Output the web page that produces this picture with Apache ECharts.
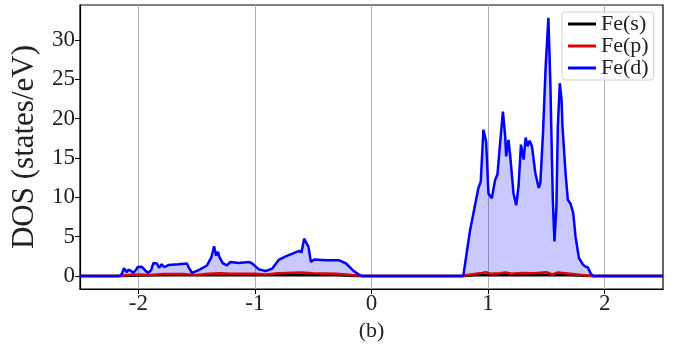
<!DOCTYPE html>
<html>
<head>
<meta charset="utf-8">
<script src="https://cdn.jsdelivr.net/npm/echarts@6/dist/echarts.min.js"></script>
<style>
html, body { margin: 0; padding: 0; background: #fff; }
#chart { width: 679px; height: 348px; }
</style>
</head>
<body>
<div id="chart"></div>
<script>
// data
var seriesNames = ['Fe(s)', 'Fe(p)', 'Fe(d)'];
var xTicks = [-2, -1, 0, 1, 2];
var yTicks = [0, 5, 10, 15, 20, 25, 30];

var dEnergy = [-2.5, -2.16, -2.14, -2.123, -2.10, -2.085, -2.065, -2.043, -2.02, -2.006, -1.971, -1.943, -1.914, -1.89, -1.871, -1.84, -1.822, -1.8, -1.776, -1.741, -1.655, -1.583, -1.569, -1.54, -1.483, -1.411, -1.373, -1.35, -1.333, -1.316, -1.304, -1.276, -1.239, -1.21, -1.138, -1.052, -1.023, -0.966, -0.908, -0.851, -0.793, -0.736, -0.678, -0.621, -0.6, -0.578, -0.563, -0.54, -0.52, -0.491, -0.391, -0.276, -0.218, -0.161, -0.103, -0.08, 0.787, 0.816, 0.845, 0.873, 0.897, 0.917, 0.937, 0.96, 0.983, 1.003, 1.032, 1.046, 1.06, 1.08, 1.103, 1.127, 1.147, 1.155, 1.175, 1.19, 1.218, 1.241, 1.261, 1.282, 1.299, 1.305, 1.322, 1.339, 1.356, 1.376, 1.405, 1.434, 1.448, 1.471, 1.494, 1.517, 1.534, 1.555, 1.569, 1.586, 1.598, 1.615, 1.63, 1.638, 1.649, 1.664, 1.684, 1.707, 1.73, 1.75, 1.779, 1.816, 1.836, 1.856, 1.879, 1.902, 2.5];
var dValue = [0, 0, 0.3, 1.0, 0.5, 0.8, 0.7, 0.4, 0.8, 1.15, 1.2, 0.75, 0.4, 0.75, 1.65, 1.6, 1.05, 1.5, 1.15, 1.4, 1.5, 1.6, 1.15, 0.4, 0.75, 1.35, 2.4, 3.8, 2.6, 3.1, 2.4, 1.65, 1.35, 1.8, 1.65, 1.8, 1.6, 0.85, 0.65, 0.95, 2.1, 2.5, 2.85, 3.2, 3.0, 4.75, 4.95, 3.7, 1.8, 2.1, 2.0, 2.0, 1.6, 0.75, 0.15, 0, 0, 2.9, 5.8, 7.9, 9.7, 11.2, 12.0, 18.6, 17.1, 10.5, 9.9, 9.7, 12.2, 12.9, 16.9, 20.9, 17.7, 15.2, 17.3, 15.2, 10.5, 9.0, 11.4, 16.7, 16.9, 14.8, 17.6, 16.5, 17.2, 16.5, 13.1, 11.2, 11.8, 18.2, 26.7, 32.8, 24.5, 9.7, 4.4, 8.8, 19.0, 24.5, 22.4, 19.0, 19.2, 13.1, 9.7, 9.2, 8.0, 5.0, 2.3, 1.4, 1.2, 1.1, 0.35, 0, 0];

var pEnergy = [-2.5, -2.16, -2.1, -2.0, -1.9, -1.8, -1.6, -1.5, -1.4, -1.3, -1.2, -1.0, -0.9, -0.8, -0.6, -0.5, -0.3, -0.15, -0.08, 0.78, 0.85, 0.95, 0.98, 1.02, 1.1, 1.15, 1.2, 1.25, 1.3, 1.4, 1.5, 1.55, 1.6, 1.7, 1.8, 1.9, 2.5];
var pValue = [0, 0, 0.15, 0.2, 0.15, 0.25, 0.25, 0.15, 0.3, 0.35, 0.3, 0.3, 0.2, 0.35, 0.45, 0.35, 0.3, 0.1, 0, 0, 0.2, 0.4, 0.5, 0.3, 0.35, 0.45, 0.3, 0.35, 0.4, 0.35, 0.5, 0.2, 0.45, 0.3, 0.15, 0, 0];

var sEnergy = [-2.5, -2.16, -2.1, -1.8, -1.4, -1.0, -0.6, -0.3, -0.1, 0.78, 0.9, 1.0, 1.2, 1.5, 1.7, 1.9, 2.5];
var sValue = [0, 0, 0.05, 0.1, 0.1, 0.1, 0.15, 0.1, 0, 0, 0.1, 0.15, 0.1, 0.15, 0.1, 0, 0];

function pairs(xs, ys) {
    return xs.map(function (x, i) { return [x, ys[i]]; });
}

var font = 'Liberation Serif';
var chart = echarts.init(document.getElementById('chart'));

var option = {
    animation: false,
    grid: {
        left: 80, right: 16, top: 5, bottom: 59,
        outerBoundsMode: 'none',
        containLabel: false,
        show: true, borderColor: '#000', borderWidth: 1.2
    },
    legend: {
        data: seriesNames,
        orient: 'vertical',
        left: 562, top: 12,
        icon: 'rect',
        itemWidth: 28, itemHeight: 3,
        itemGap: 0,
        padding: [1, 5, 1, 6],
        borderColor: '#d0d0d0', borderWidth: 1, borderRadius: 3,
        backgroundColor: 'rgba(255,255,255,0.8)',
        textStyle: { fontFamily: font, fontSize: 22, color: '#222', lineHeight: 20.5 }
    },
    xAxis: {
        type: 'value',
        min: -2.5, max: 2.5,
        name: '(b)',
        nameLocation: 'middle',
        nameGap: 29,
        nameTextStyle: { fontFamily: font, fontSize: 22, color: '#222' },
        axisLine: { show: true, onZero: false, lineStyle: { color: '#000', width: 1.2 } },
        axisTick: { show: true, length: 5, customValues: xTicks, lineStyle: { color: '#000' } },
        axisLabel: { customValues: xTicks, fontFamily: font, fontSize: 23, color: '#222', margin: 3 },
        splitLine: { show: true, showMinLine: true, showMaxLine: true, lineStyle: { color: '#b0b0b0', width: 1 } }
    },
    yAxis: {
        type: 'value',
        min: -1.64, max: 34.44,
        name: 'DOS (states/eV)',
        nameLocation: 'middle',
        nameGap: 40,
        nameTextStyle: { fontFamily: font, fontSize: 31, color: '#222' },
        axisLine: { show: true, onZero: false, lineStyle: { color: '#000', width: 1.2 } },
        axisTick: { show: true, length: 5, customValues: yTicks, lineStyle: { color: '#000' } },
        axisLabel: { customValues: yTicks, fontFamily: font, fontSize: 23, color: '#222', margin: 5 },
        splitLine: { show: false }
    },
    series: [{
        name: 'Fe(s)',
        type: 'line',
        showSymbol: false,
        data: pairs(sEnergy, sValue),
        itemStyle: { color: '#000' },
        lineStyle: { color: '#000', width: 2.5 }
    }, {
        name: 'Fe(p)',
        type: 'line',
        showSymbol: false,
        data: pairs(pEnergy, pValue),
        itemStyle: { color: '#e00000' },
        lineStyle: { color: '#e00000', width: 2.5 }
    }, {
        name: 'Fe(d)',
        type: 'line',
        showSymbol: false,
        data: pairs(dEnergy, dValue),
        itemStyle: { color: '#0000ff' },
        lineStyle: { color: '#0000ff', width: 2.5 },
        areaStyle: { color: 'rgba(0,0,255,0.3)', origin: 0 }
    }]
};
chart.setOption(option);

window.onresize = function () {
    chart.resize();
};
</script>
</body>
</html>
